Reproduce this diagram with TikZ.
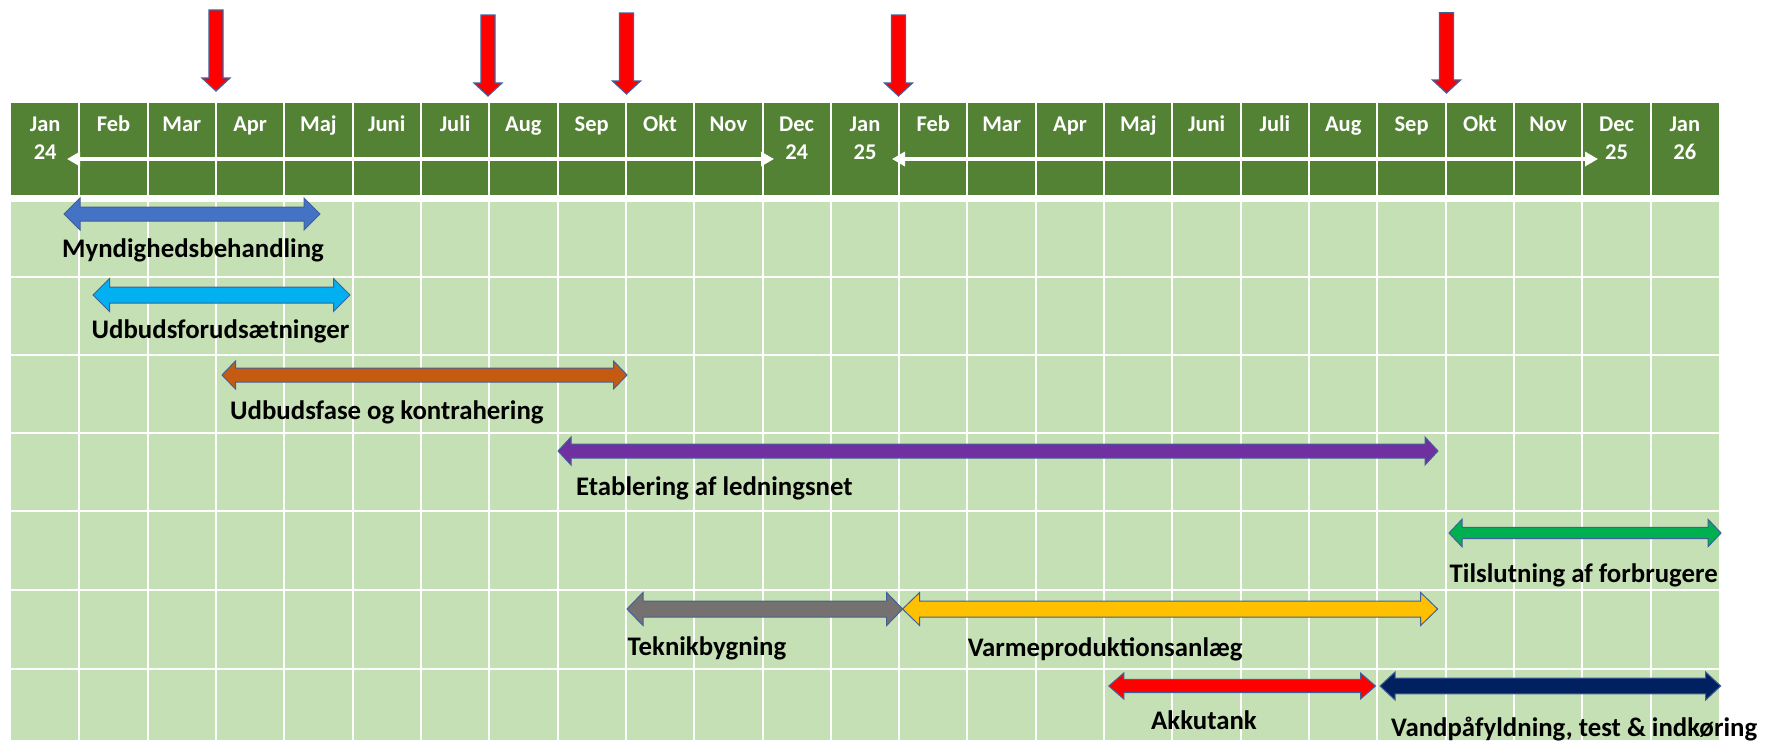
\documentclass[tikz,border=0pt]{standalone}
\usepackage{fontspec}
\setmainfont{Carlito}
\usetikzlibrary{arrows.meta}
\definecolor{hdr}{HTML}{548235}
\definecolor{cell}{HTML}{C5E0B4}
\definecolor{barline}{HTML}{41609A}
\definecolor{cblue}{HTML}{4472C4}
\definecolor{ccyan}{HTML}{00B0F0}
\definecolor{corange}{HTML}{C55A11}
\definecolor{cpurple}{HTML}{7030A0}
\definecolor{cgreen}{HTML}{00B050}
\definecolor{cgray}{HTML}{767171}
\definecolor{cyellow}{HTML}{FFC000}
\definecolor{cred}{HTML}{FF0000}
\definecolor{cnavy}{HTML}{002060}
% #1 left tip x, #2 right tip x, #3 y, #4 shaft half, #5 head half, #6 head length, #7 colour
\newcommand\ganttbar[7]{%
  \filldraw[gantt,fill=#7] (#1,#3) -- (#1+#6,#3-#5) -- (#1+#6,#3-#4) -- (#2-#6,#3-#4)
    -- (#2-#6,#3-#5) -- (#2,#3) -- (#2-#6,#3+#5) -- (#2-#6,#3+#4) -- (#1+#6,#3+#4)
    -- (#1+#6,#3+#5) -- cycle;}
\begin{document}
\begin{tikzpicture}[x=1pt,y=-1pt,
  lbl/.style={anchor=base west, inner sep=0pt, font=\fontsize{26.8}{30}\selectfont\bfseries, text=black},
  hlbl/.style={anchor=base, inner sep=0pt, font=\fontsize{22.5}{26}\selectfont\bfseries, text=white},
  gline/.style={white, line width=2pt},
  redarrow/.style={fill=cred, draw=barline, line width=1.2pt, line join=miter},
  gantt/.style={draw=barline, line width=1pt, line join=miter},
  yeararrow/.style={white, line width=3.5pt, {Triangle[length=13pt,width=14pt]}-{Triangle[length=13pt,width=14pt]}}
]
\useasboundingbox (0,0) rectangle (1766,740);

% red markers
\foreach \x/\t/\b in {216/10/91, 488/15/96, 626.5/13/94, 898.5/15/96, 1446.5/12.7/93}{
  \draw[redarrow] (\x-7,\t) -- (\x+7,\t) -- (\x+7,\b-13) -- (\x+14,\b-13) -- (\x,\b)
    -- (\x-14,\b-13) -- (\x-7,\b-13) -- cycle;
}

% header
\fill[hdr] (11,103) rectangle (1719,195);
\foreach \k in {1,...,24}{
  \draw[gline] ({11+68.32*\k},103) -- ({11+68.32*\k},195);
}
\draw[gline] (79.3,159) -- (762.5,159);
\draw[gline] (899.2,159) -- (1582.4,159);
\foreach \m [count=\i from 0] in {Jan,Feb,Mar,Apr,Maj,Juni,Juli,Aug,Sep,Okt,Nov,Dec,Jan,Feb,Mar,Apr,Maj,Juni,Juli,Aug,Sep,Okt,Nov,Dec,Jan}{
  \node[hlbl] (m\i) at ({11+68.32*(\i+0.5)},131) {\m};
}
\foreach \yr/\c in {24/0,24/11,25/12,25/23,26/24}{
  \node[hlbl] (y\c) at ({11+68.32*(\c+0.5)},159) {\yr};
}
\coordinate (a1) at (67,159);
\coordinate (a2) at (774,159);
\coordinate (b1) at (892,159);
\coordinate (b2) at (1598,159);
\draw[yeararrow] (a1) -- (a2);
\draw[yeararrow] (b1) -- (b2);

% body
\fill[cell] (11,201.5) rectangle (1719,740);
\foreach \k in {1,...,24}{
  \draw[gline] ({11+68.32*\k},201.5) -- ({11+68.32*\k},740);
}
\foreach \r in {277,354.5,433,511,590,669}{
  \draw[gline] (11,\r) -- (1719,\r);
}

% bars
\ganttbar{64}{320}{214}{7}{16}{16}{cblue}
\ganttbar{93}{350}{295}{8}{16.5}{16.5}{ccyan}
\ganttbar{222}{627}{375}{7}{14}{13.5}{corange}
\ganttbar{558}{1438}{451}{7}{14}{13}{cpurple}
\ganttbar{1449}{1721}{533}{5.7}{13.7}{13}{cgreen}
\ganttbar{627}{902.6}{609}{8}{16.5}{16}{cgray}
\ganttbar{902.6}{1437.6}{609}{8}{16.5}{17}{cyellow}
\ganttbar{1108.8}{1375.5}{686}{6.7}{13}{15}{cred}
\ganttbar{1380}{1720.7}{686}{7.8}{14}{15}{cnavy}

% labels
\node[lbl] (t1) at (62,257.3) {Myndighedsbehandling};
\node[lbl] (t2) at (91.5,338.3) {Udbudsforudsætninger};
\node[lbl] (t3) at (230,419) {Udbudsfase og kontrahering};
\node[lbl] (t4) at (576,495) {Etablering af ledningsnet};
\node[lbl] (t5) at (1449.5,582.3) {Tilslutning af forbrugere};
\node[lbl] (t6) at (627.5,655) {Teknikbygning};
\node[lbl] (t7) at (967.6,656.7) {Varmeproduktionsanlæg};
\node[lbl] (t8) at (1151,729.3) {Akkutank};
\node[lbl] (t9) at (1391,736.7) {Vandpåfyldning, test \& indkøring};
\end{tikzpicture}
\end{document}
